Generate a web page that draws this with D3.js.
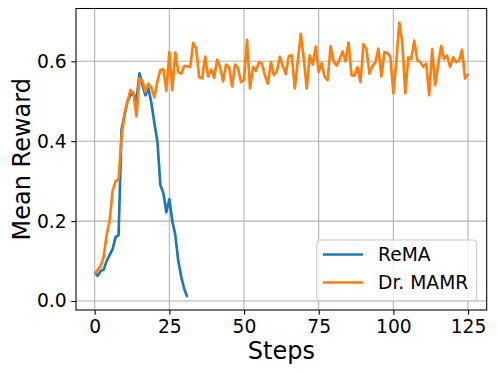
<!DOCTYPE html>
<html>
<head>
<meta charset="utf-8">
<script src="https://cdn.jsdelivr.net/npm/d3@7"></script>
<style>
  body { margin: 0; background: #fff; }
  svg { display: block; font-family: "DejaVu Sans", sans-serif; }
</style>
</head>
<body>
<svg id="chart"></svg>
<script>
// mean reward per training step (index = step)
const rema = [0.072, 0.063, 0.075, 0.078, 0.10, 0.115, 0.13, 0.16, 0.165, 0.43,
  0.465, 0.50, 0.515, 0.52, 0.50, 0.57, 0.54, 0.515, 0.532, 0.495,
  0.445, 0.40, 0.29, 0.27, 0.222, 0.255, 0.20, 0.165, 0.10, 0.06,
  0.03, 0.01];

const drMamr = [0.068, 0.078, 0.088, 0.11, 0.165, 0.20, 0.275, 0.30, 0.305, 0.41,
  0.47, 0.50, 0.528, 0.52, 0.462, 0.557, 0.552, 0.523, 0.544, 0.534,
  0.51, 0.55, 0.578, 0.58, 0.526, 0.623, 0.528, 0.622, 0.573, 0.569,
  0.588, 0.588, 0.586, 0.646, 0.632, 0.56, 0.557, 0.612, 0.562, 0.579,
  0.559, 0.604, 0.586, 0.55, 0.592, 0.586, 0.537, 0.592, 0.582, 0.548,
  0.554, 0.654, 0.532, 0.586, 0.576, 0.598, 0.594, 0.565, 0.544, 0.598,
  0.565, 0.575, 0.611, 0.588, 0.568, 0.613, 0.615, 0.532, 0.60, 0.669,
  0.607, 0.532, 0.615, 0.592, 0.637, 0.573, 0.595, 0.561, 0.553, 0.638,
  0.60, 0.589, 0.604, 0.625, 0.60, 0.647, 0.565, 0.564, 0.585, 0.548,
  0.643, 0.630, 0.569, 0.588, 0.598, 0.632, 0.562, 0.623, 0.621, 0.611,
  0.52, 0.60, 0.697, 0.646, 0.52, 0.610, 0.605, 0.652, 0.603, 0.598,
  0.586, 0.594, 0.515, 0.63, 0.54, 0.59, 0.639, 0.606, 0.614, 0.586,
  0.61, 0.598, 0.602, 0.629, 0.557, 0.569];

const xTicks = [0, 25, 50, 75, 100, 125];
const yTicks = [0.0, 0.2, 0.4, 0.6];
const seriesNames = ["ReMA", "Dr. MAMR"];
const seriesColors = ["#1f77b4", "#ff7f0e"];

const width = 498, height = 374;
const margin = { top: 8.5, right: 11.3, bottom: 64, left: 76 };
const innerW = width - margin.left - margin.right;
const innerH = height - margin.top - margin.bottom;

const svg = d3.select("#chart")
    .attr("width", width)
    .attr("height", height);

const g = svg.append("g")
    .attr("transform", `translate(${margin.left},${margin.top})`);

const x = d3.scaleLinear().domain([-6.25, 131.25]).range([0, innerW]);
const y = d3.scaleLinear().domain([-0.0225, 0.7322]).range([innerH, 0]);

// grid
g.append("g")
    .selectAll("line")
    .data(xTicks)
    .join("line")
    .attr("x1", d => x(d)).attr("x2", d => x(d))
    .attr("y1", 0).attr("y2", innerH)
    .attr("stroke", "#b0b0b0").attr("stroke-width", 1.07);

g.append("g")
    .selectAll("line")
    .data(yTicks)
    .join("line")
    .attr("y1", d => y(d)).attr("y2", d => y(d))
    .attr("x1", 0).attr("x2", innerW)
    .attr("stroke", "#b0b0b0").attr("stroke-width", 1.07);

// lines
const line = d3.line()
    .x((d, i) => x(i))
    .y(d => y(d));

[rema, drMamr].forEach((s, k) => {
    g.append("path")
        .datum(s)
        .attr("fill", "none")
        .attr("stroke", seriesColors[k])
        .attr("stroke-width", 2.67)
        .attr("stroke-linejoin", "round")
        .attr("stroke-linecap", "butt")
        .attr("d", line);
});

// axes
const xAxis = g.append("g")
    .attr("transform", `translate(0,${innerH})`)
    .call(d3.axisBottom(x).tickValues(xTicks).tickFormat(d3.format("d"))
        .tickSize(4.67).tickPadding(4.67));

const yAxis = g.append("g")
    .call(d3.axisLeft(y).tickValues(yTicks).tickFormat(d3.format(".1f"))
        .tickSize(4.67).tickPadding(4.67));

[xAxis, yAxis].forEach(a => {
    a.select(".domain").remove();
    a.selectAll(".tick line").attr("stroke", "#000").attr("stroke-width", 1.07);
    a.selectAll(".tick text")
        .attr("fill", "#000")
        .attr("font-size", "18.7px")
        .attr("font-family", "DejaVu Sans");
});

// frame
g.append("rect")
    .attr("width", innerW).attr("height", innerH)
    .attr("fill", "none")
    .attr("stroke", "#000")
    .attr("stroke-width", 1.07);

// axis titles
svg.append("text")
    .attr("x", margin.left + innerW / 2)
    .attr("y", 359)
    .attr("text-anchor", "middle")
    .attr("font-size", "24px")
    .text("Steps");

svg.append("text")
    .attr("transform", `translate(29.5,${margin.top + innerH / 2}) rotate(-90)`)
    .attr("text-anchor", "middle")
    .attr("font-size", "24px")
    .text("Mean Reward");

// legend
const legend = svg.append("g");
legend.append("rect")
    .attr("x", 316.7).attr("y", 240)
    .attr("width", 160).attr("height", 60.7)
    .attr("rx", 3.5)
    .attr("fill", "#fff").attr("fill-opacity", 0.8)
    .attr("stroke", "#cccccc").attr("stroke-width", 1.07);

seriesNames.forEach((name, i) => {
    const cy = 254.5 + i * 28;
    legend.append("line")
        .attr("x1", 323).attr("x2", 363)
        .attr("y1", cy).attr("y2", cy)
        .attr("stroke", seriesColors[i])
        .attr("stroke-width", 2.67);
    legend.append("text")
        .attr("x", 378)
        .attr("y", cy)
        .attr("dy", "0.35em")
        .attr("font-size", "18.7px")
        .text(name);
});
</script>
</body>
</html>
